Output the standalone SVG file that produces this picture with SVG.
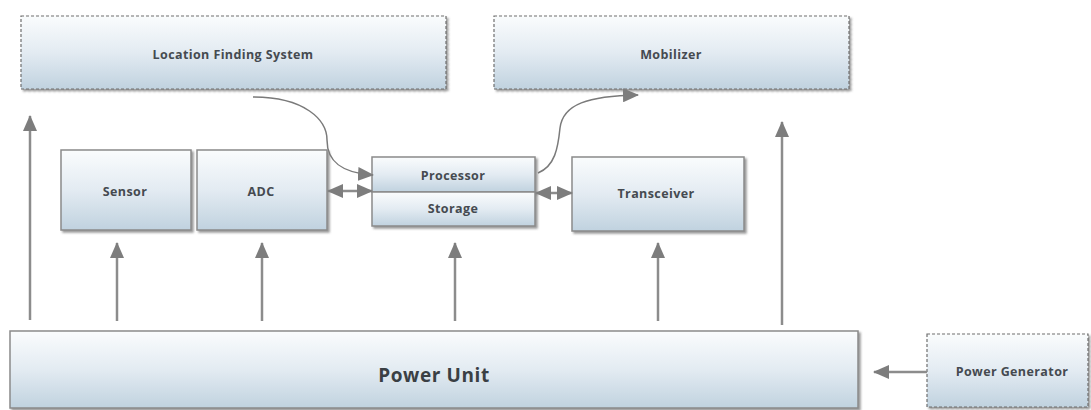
<svg xmlns="http://www.w3.org/2000/svg" width="1091" height="410" viewBox="0 0 1091 410">
  <defs>
    <linearGradient id="fill" x1="0" y1="0" x2="0" y2="1">
      <stop offset="0" stop-color="#fafcfd"/>
      <stop offset="0.5" stop-color="#e3ebf2"/>
      <stop offset="1" stop-color="#c0d2df"/>
    </linearGradient>
    <filter id="shadow" x="-5%" y="-10%" width="115%" height="130%">
      <feDropShadow dx="2" dy="2" stdDeviation="1" flood-color="#555" flood-opacity="0.6"/>
    </filter>
    <marker id="ah" viewBox="0 0 16 14" refX="15" refY="7" markerWidth="16" markerHeight="14" markerUnits="userSpaceOnUse" orient="auto-start-reverse">
      <path d="M0,0 L16,7 L0,14 Z" fill="#7d7d7d"/>
    </marker>
  </defs>
  <style>
    .box { fill: url(#fill); stroke: #8a8a8a; stroke-width: 1.5; filter: url(#shadow); }
    .dbox { fill: url(#fill); stroke: #6e6e6e; stroke-width: 1.2; stroke-dasharray: 3 2; filter: url(#shadow); }
    .lbl { font-family: "Open Sans", "Liberation Sans", sans-serif; font-weight: 700; font-size: 12.5px; fill: #454a50; text-anchor: middle; letter-spacing: 0.4px; }
    .big { font-size: 19px; letter-spacing: 0.6px; fill: #3a3f44; }
    .con { fill: none; stroke: #8c8c8c; stroke-width: 2.5; }
    .thin { fill: none; stroke: #7a7a7a; stroke-width: 1.5; }
  </style>

  <g id="location-finding-system">
    <rect class="dbox" x="21" y="16" width="425" height="73"/>
    <text class="lbl" x="233" y="59">Location Finding System</text>
  </g>
  <g id="mobilizer">
    <rect class="dbox" x="494" y="16" width="355" height="73"/>
    <text class="lbl" x="671" y="59">Mobilizer</text>
  </g>
  <g id="sensor">
    <rect class="box" x="61" y="150" width="130" height="80"/>
    <text class="lbl" x="125" y="196">Sensor</text>
  </g>
  <g id="adc">
    <rect class="box" x="197" y="150" width="130" height="80"/>
    <text class="lbl" x="261" y="196">ADC</text>
  </g>
  <g id="processor">
    <rect class="box" x="372" y="157" width="163" height="35"/>
    <text class="lbl" x="453" y="180">Processor</text>
  </g>
  <g id="storage">
    <rect class="box" x="372" y="192" width="163" height="34"/>
    <text class="lbl" x="453" y="213">Storage</text>
  </g>
  <g id="transceiver">
    <rect class="box" x="572" y="157" width="172" height="74"/>
    <text class="lbl" x="656" y="198">Transceiver</text>
  </g>
  <g id="power-unit">
    <rect class="box" x="10" y="331" width="848" height="77"/>
    <text class="lbl big" x="434" y="382">Power Unit</text>
  </g>
  <g id="power-generator">
    <rect class="dbox" x="927" y="334" width="161" height="73"/>
    <text class="lbl" x="1012" y="376">Power Generator</text>
  </g>

  <g id="connectors">
    <line class="con" x1="30" y1="320" x2="30" y2="116" marker-end="url(#ah)"/>
    <line class="con" x1="117" y1="321" x2="117" y2="243" marker-end="url(#ah)"/>
    <line class="con" x1="262" y1="321" x2="262" y2="243" marker-end="url(#ah)"/>
    <line class="con" x1="455" y1="321" x2="455" y2="243" marker-end="url(#ah)"/>
    <line class="con" x1="658" y1="321" x2="658" y2="243" marker-end="url(#ah)"/>
    <line class="con" x1="782" y1="325" x2="782" y2="122" marker-end="url(#ah)"/>
    <line class="con" x1="927" y1="372" x2="874" y2="372" marker-end="url(#ah)"/>
    <line class="con" x1="328" y1="191" x2="372" y2="191" marker-start="url(#ah)" marker-end="url(#ah)"/>
    <line class="con" x1="536" y1="193" x2="572" y2="193" marker-start="url(#ah)" marker-end="url(#ah)"/>
    <path class="thin" d="M253,97 C305,97 327,120 327,140 C327,162 342,173 373,175" marker-end="url(#ah)"/>
    <path class="thin" d="M538,173 C555,166 558,148 560,128 C563,104 588,96 638,95" marker-end="url(#ah)"/>
  </g>
</svg>
